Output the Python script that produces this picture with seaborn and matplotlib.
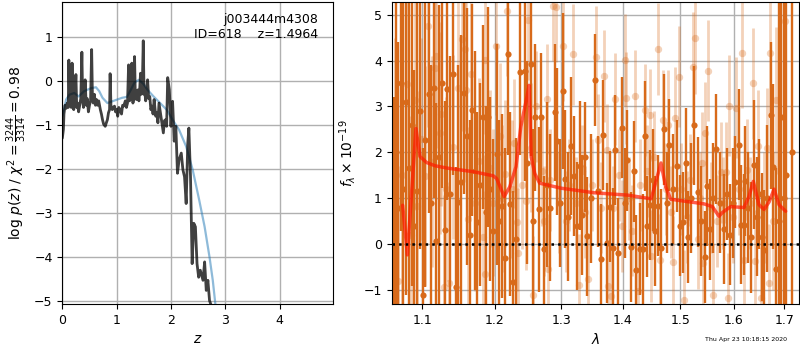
import numpy as np
import matplotlib
matplotlib.use('Agg')
import matplotlib.pyplot as plt
from matplotlib.ticker import NullLocator, FixedLocator, FixedFormatter
import seaborn as sns

# ---- left panel: p(z) and chi2 curves ------------------------------------ #
z_pz = [0.00, 0.02, 0.03, 0.05, 0.07, 0.09, 0.11, 0.12, 0.135, 0.15, 0.165, 0.18,
        0.195, 0.21, 0.23, 0.25, 0.265, 0.28, 0.30, 0.32, 0.34, 0.36, 0.375, 0.39,
        0.41, 0.42, 0.44, 0.46, 0.48, 0.50, 0.52, 0.54, 0.555, 0.57, 0.59, 0.61,
        0.63, 0.65, 0.67, 0.70, 0.72, 0.74, 0.76, 0.79, 0.81, 0.83, 0.85, 0.87,
        0.88, 0.895, 0.92, 0.94, 0.96, 0.98, 1.00, 1.02, 1.04, 1.06, 1.09, 1.11,
        1.13, 1.16, 1.18, 1.20, 1.22, 1.235, 1.26, 1.28, 1.30, 1.32, 1.33, 1.345,
        1.37, 1.39, 1.41, 1.42, 1.44, 1.455, 1.47, 1.49, 1.505, 1.52, 1.535, 1.55,
        1.57, 1.59, 1.61, 1.63, 1.65, 1.67, 1.69, 1.72, 1.74, 1.76, 1.78, 1.81,
        1.83, 1.86, 1.88, 1.90, 1.92, 1.94, 1.97, 2.00, 2.03, 2.06, 2.09, 2.12,
        2.15, 2.19, 2.22, 2.25, 2.28, 2.31, 2.33, 2.36, 2.39, 2.42, 2.45, 2.48,
        2.51, 2.54, 2.59, 2.62, 2.65, 2.68, 2.71, 2.74]
logp_pz = [-1.30, -1.10, -0.75, -0.55, -0.62, -0.50, -0.60, 0.48, -0.55, -0.45, -0.60, 0.41,
           -0.50, -0.65, -0.45, 0.15, -0.60, -0.50, -0.70, -0.55, -0.40, 0.66, -0.45, -0.60,
           -0.35, 0.03, -0.55, -0.40, -0.70, -0.55, -0.45, 0.72, -0.40, -0.50, -0.30, -0.55,
           -0.42, -0.55, -0.45, -0.65, -0.75, -0.88, -0.98, -1.03, -0.95, -0.88, -0.72, -0.65,
           0.17, -0.55, -0.65, -0.60, -0.57, -0.70, -0.65, -0.80, -0.60, -0.65, -0.75, -0.55,
           -0.57, -0.45, -0.60, -0.50, 0.37, -0.45, -0.42, 0.41, -0.50, -0.35, 0.56, -0.40,
           -0.42, -0.20, -0.45, -0.30, 0.18, -0.30, -0.27, 0.92, -0.30, -0.27, -0.45, -0.20,
           0.03, -0.40, -0.35, -0.65, -0.57, -0.75, -0.42, -0.80, -0.72, -0.95, -0.50, -0.76,
           -0.95, -1.18, -0.90, -0.88, -1.03, 0.08, -0.19, -1.03, -0.46, -1.37, -1.03, -2.10,
           -1.79, -1.64, -2.02, -2.18, -2.79, -1.41, -1.07, -2.18, -4.16, -3.24, -3.32, -4.16,
           -4.47, -4.31, -4.54, -4.12, -4.77, -4.54, -5.00, -5.11]

z_chi = [0.00, 0.03, 0.07, 0.13, 0.22, 0.30, 0.40, 0.53, 0.62, 0.68, 0.74, 0.83,
         0.92, 1.01, 1.10, 1.19, 1.26, 1.33, 1.41, 1.49, 1.57, 1.68, 1.80, 1.92,
         2.03, 2.15, 2.28, 2.40, 2.52, 2.62, 2.71, 2.77, 2.82]
logp_chi = [-0.80, -0.65, -0.42, -0.31, -0.27, -0.35, -0.23, -0.16, -0.14, -0.23, -0.38, -0.50,
            -0.46, -0.42, -0.38, -0.36, -0.20, -0.03, 0.03, -0.06, -0.20, -0.35, -0.50, -0.65,
            -0.88, -1.11, -1.49, -2.02, -2.71, -3.32, -4.01, -4.54, -5.11]

# ---- right panel: spectrum, two sets of points ----------------------------- #
wave_a = [1.0632, 1.0660, 1.0690, 1.0718, 1.0745, 1.0787, 1.0830, 1.0862, 1.0890, 1.0935,
          1.0970, 1.1006, 1.1040, 1.1086, 1.1120, 1.1156, 1.1183, 1.1225, 1.1264, 1.1305,
          1.1336, 1.1378, 1.1419, 1.1459, 1.1488, 1.1529, 1.1566, 1.1613, 1.1645, 1.1678,
          1.1715, 1.1753, 1.1795, 1.1838, 1.1870, 1.1905, 1.1929, 1.1975, 1.2039, 1.2070,
          1.2107, 1.2151, 1.2195, 1.2229, 1.2273, 1.2313, 1.2371, 1.2442, 1.2481, 1.2532,
          1.2565, 1.2601, 1.2651, 1.2686, 1.2727, 1.2780, 1.2830, 1.2899, 1.2940, 1.2985,
          1.3024, 1.3066, 1.3110, 1.3159, 1.3197, 1.3245, 1.3292, 1.3335, 1.3375, 1.3415,
          1.3480, 1.3545, 1.3594, 1.3643, 1.3676, 1.3731, 1.3780, 1.3830, 1.3863, 1.3913,
          1.3985, 1.4030, 1.4064, 1.4142, 1.4193, 1.4227, 1.4290, 1.4341, 1.4381, 1.4415,
          1.4461, 1.4510, 1.4553, 1.4611, 1.4660, 1.4709, 1.4760, 1.4800, 1.4870, 1.4944,
          1.5000, 1.5058, 1.5111, 1.5142, 1.5200, 1.5256, 1.5317, 1.5380, 1.5455, 1.5500,
          1.5555, 1.5610, 1.5660, 1.5730, 1.5805, 1.5870, 1.5933, 1.5980, 1.6029, 1.6094,
          1.6132, 1.6190, 1.6223, 1.6280, 1.6334, 1.6393, 1.6450, 1.6500, 1.6560, 1.6600,
          1.6660, 1.6726, 1.6781, 1.6842, 1.6894, 1.6940, 1.6985, 1.7029, 1.7165]
flux_a = [-0.50, 2.00, 0.80, 3.50, 1.20, 3.09, 1.67, 2.60, 0.40, 1.17,
          2.90, -1.10, 2.28, 3.28, 0.90, 3.41, 0.07, 1.90, 3.52, 0.31,
          3.37, 1.10, 3.70, -0.92, 0.91, 1.35, 3.30, 2.35, 0.20, 2.92,
          1.60, 0.48, 1.30, 2.77, 0.70, 2.77, 1.21, 0.30, 1.96, 0.50,
          0.84, -0.30, 4.14, 0.88, -0.83, 0.12, 3.74, 3.77, 1.78, 3.92,
          0.51, 2.76, 0.76, 2.76, -0.11, 1.30, 0.80, 2.87, 2.24, 0.90,
          3.33, 1.42, 0.60, 2.14, 1.49, 0.40, 1.71, 0.64, 1.90, 0.17,
          1.00, 3.57, 1.15, -0.33, 2.38, 0.03, 0.82, -0.08, 2.05, -0.19,
          2.54, 0.90, 1.83, -0.06, 1.59, -0.56, -0.11, -0.11, 2.35, 0.39,
          0.85, 1.40, 0.29, 0.84, -0.09, 2.50, 0.90, 2.17, 1.20, 1.70,
          0.40, 0.48, 1.76, 0.16, 1.00, 2.59, 1.14, 0.50, -0.28, 1.27,
          0.33, 1.00, 2.07, 0.90, 0.34, 1.10, 0.21, 0.90, 1.35, 2.17,
          0.43, 0.43, 1.37, 0.80, 0.15, 1.73, 0.60, 1.10, 0.16, -0.12,
          1.00, 2.81, 1.69, -0.53, 0.50, 2.76, 1.00, 1.50, 2.00]
err_a = [3.7, 4.0, 3.6, 3.2, 4.5, 4.2, 4.0, 3.5, 3.4, 4.2,
         3.0, 3.2, 3.2, 2.6, 3.0, 2.4, 3.0, 3.3, 2.3, 2.8,
         2.4, 3.0, 2.2, 2.6, 3.0, 3.2, 2.2, 2.8, 2.5, 2.3,
         2.6, 2.4, 2.2, 2.0, 2.3, 2.4, 2.0, 2.0, 2.4, 2.2,
         2.0, 2.4, 2.2, 2.0, 2.0, 2.2, 1.8, 2.4, 2.2, 2.0,
         2.0, 1.6, 1.8, 1.4, 1.6, 1.8, 1.6, 1.5, 1.6, 1.4,
         1.7, 1.5, 1.4, 1.5, 1.3, 1.4, 1.4, 1.3, 1.2, 1.3,
         1.4, 1.0, 1.2, 1.2, 1.2, 1.3, 1.2, 1.3, 1.2, 1.2,
         1.1, 1.2, 1.1, 1.2, 1.1, 1.2, 1.0, 1.2, 1.2, 1.1,
         1.2, 1.1, 1.2, 1.1, 1.3, 1.2, 1.1, 1.0, 1.2, 1.0,
         1.1, 1.1, 1.2, 1.0, 1.2, 1.3, 1.2, 1.2, 1.0, 1.3,
         1.1, 1.2, 1.2, 1.1, 1.2, 1.0, 1.1, 1.2, 1.0, 1.2,
         1.3, 1.1, 1.2, 1.2, 1.2, 1.4, 1.3, 1.2, 1.4, 1.3,
         1.6, 1.6, 1.8, 2.2, 6.0, 6.0, 8.0, 8.0, 8.0]

wave_b = [1.0640, 1.0690, 1.0740, 1.0805, 1.0850, 1.0900, 1.0935, 1.0985, 1.1033, 1.1081,
          1.1130, 1.1165, 1.1183, 1.1232, 1.1245, 1.1290, 1.1320, 1.1353, 1.1419, 1.1488,
          1.1538, 1.1582, 1.1601, 1.1629, 1.1665, 1.1720, 1.1780, 1.1828, 1.1865, 1.1869,
          1.1932, 1.1980, 1.2017, 1.2075, 1.2110, 1.2151, 1.2185, 1.2250, 1.2290, 1.2321,
          1.2335, 1.2400, 1.2462, 1.2491, 1.2530, 1.2565, 1.2620, 1.2700, 1.2740, 1.2785,
          1.2797, 1.2830, 1.2873, 1.2923, 1.2960, 1.3030, 1.3070, 1.3120, 1.3186, 1.3230,
          1.3283, 1.3330, 1.3380, 1.3430, 1.3490, 1.3562, 1.3590, 1.3640, 1.3688, 1.3741,
          1.3753, 1.3807, 1.3840, 1.3875, 1.3940, 1.3990, 1.4030, 1.4058, 1.4110, 1.4160,
          1.4200, 1.4256, 1.4300, 1.4381, 1.4420, 1.4457, 1.4482, 1.4540, 1.4600, 1.4645,
          1.4690, 1.4740, 1.4790, 1.4830, 1.4872, 1.4900, 1.4978, 1.5020, 1.5070, 1.5120,
          1.5180, 1.5237, 1.5268, 1.5323, 1.5360, 1.5403, 1.5417, 1.5455, 1.5511, 1.5560,
          1.5613, 1.5670, 1.5752, 1.5800, 1.5850, 1.5895, 1.5914, 1.5990, 1.6049, 1.6100,
          1.6164, 1.6190, 1.6255, 1.6320, 1.6373, 1.6421, 1.6473, 1.6540, 1.6600, 1.6650,
          1.6700, 1.6720, 1.6780, 1.6834, 1.6890, 1.7012]
flux_b = [2.00, -0.80, 1.50, 3.48, 0.20, 3.15, 0.84, 2.30, 1.49, 4.75,
          1.80, 3.83, 4.10, 2.43, 2.83, -0.92, 1.20, -0.85, 2.12, 3.41,
          4.46, 4.26, 3.35, 0.56, 3.70, 0.89, 1.82, 0.15, 4.01, -0.65,
          1.65, 0.90, 4.31, 2.35, 1.00, 1.54, 5.07, 1.20, 2.20, 0.49,
          -0.18, 1.30, 0.95, 4.88, 2.10, -1.11, 3.00, 1.60, 0.50, 3.17,
          -0.54, 1.40, 5.18, 5.16, 0.90, 4.31, 0.50, 1.30, 4.14, 0.90,
          -0.88, 1.60, 0.70, -0.75, 1.30, 4.08, 2.27, 0.80, 3.66, 2.05,
          -0.90, -1.12, 0.80, 3.16, 1.50, 0.40, 4.01, 3.19, 1.00, 0.30,
          3.22, -1.02, 1.30, 2.92, 1.60, 2.81, -0.25, 1.90, 4.26, -0.34,
          2.70, 1.20, 2.60, 0.70, -0.38, 2.75, 3.65, 1.20, -1.22, 0.60,
          1.40, 3.85, 4.48, 0.12, 1.00, 1.78, -0.41, 2.43, 3.78, 0.80,
          -1.10, 0.50, 1.57, 0.90, 1.57, -1.18, 3.02, 0.60, 2.97, 1.20,
          4.17, -0.34, 1.62, 0.90, 3.50, -0.36, 2.15, -1.16, 0.80, 2.10,
          -0.85, 4.17, 0.50, 3.14, 1.00, 4.85]
err_b = [2.5, 2.5, 3.0, 2.5, 2.6, 2.4, 2.5, 2.2, 2.4, 2.2,
         2.3, 2.2, 2.0, 2.2, 2.0, 2.0, 2.0, 2.2, 2.0, 2.0,
         2.0, 1.8, 2.0, 2.0, 1.8, 1.9, 1.8, 1.8, 1.6, 1.8,
         1.7, 1.6, 1.5, 1.6, 1.6, 1.6, 1.4, 1.5, 1.4, 1.5,
         1.4, 1.4, 1.5, 1.3, 1.4, 1.3, 1.2, 1.2, 1.2, 1.2,
         1.2, 1.1, 1.2, 1.2, 1.1, 1.2, 1.1, 1.0, 1.1, 1.0,
         1.1, 1.0, 1.0, 1.0, 1.0, 1.1, 1.0, 1.0, 1.0, 1.0,
         1.0, 1.0, 0.9, 1.0, 1.0, 1.0, 1.0, 1.0, 0.9, 1.0,
         1.0, 1.0, 1.0, 1.0, 1.0, 1.0, 1.0, 1.0, 1.0, 1.0,
         1.1, 1.0, 1.2, 1.0, 1.0, 1.1, 1.1, 1.0, 1.1, 1.0,
         1.0, 1.2, 1.2, 1.1, 1.0, 1.1, 1.1, 1.1, 1.1, 1.0,
         1.1, 1.0, 1.1, 1.0, 1.1, 1.0, 1.1, 1.0, 1.1, 1.0,
         1.2, 1.0, 1.1, 1.0, 1.2, 1.1, 1.2, 1.1, 1.2, 1.3,
         1.3, 1.4, 1.5, 1.6, 2.0, 2.5]

model_wave = [1.0744, 1.0805, 1.0917, 1.0970, 1.1058, 1.1169, 1.1327, 1.1697, 1.1982, 1.2029,
              1.2139, 1.2221, 1.2313, 1.2384, 1.2476, 1.2507, 1.2540, 1.2594, 1.2668, 1.3003,
              1.3535, 1.4085, 1.4486, 1.4658, 1.4741, 1.4830, 1.5070, 1.5436, 1.5591, 1.5717,
              1.5780, 1.5940, 1.6197, 1.6294, 1.6379, 1.6491, 1.6591, 1.6692, 1.6793, 1.6894,
              1.7029]
model_flux = [0.85, -0.23, 2.52, 1.91, 1.78, 1.71, 1.66, 1.58, 1.49, 1.43,
              1.04, 1.25, 1.69, 2.56, 3.21, 3.46, 1.90, 1.54, 1.33, 1.22,
              1.12, 1.07, 0.99, 1.77, 1.25, 0.98, 0.94, 0.88, 0.82, 0.61,
              0.69, 0.82, 0.80, 1.04, 1.37, 0.86, 0.76, 0.92, 1.20, 0.86,
              0.72]

wave_ticks = [1.1, 1.2, 1.3, 1.4, 1.5, 1.6, 1.7]
wave_labels = ['1.1', '1.2', '1.3', '1.4', '1.5', '1.6', '1.7']

orange = '#d86a1a'

sns.set_style('ticks', {'axes.edgecolor': 'black', 'xtick.color': 'black',
                        'ytick.color': 'black', 'text.color': 'black',
                        'axes.labelcolor': 'black'})
plt.rcParams['font.family'] = ['DejaVu Sans']
plt.rcParams['font.size'] = 9
plt.rcParams['xtick.labelsize'] = 9
plt.rcParams['ytick.labelsize'] = 9
plt.rcParams['axes.labelsize'] = 10

fig = plt.figure(figsize=(8, 3.5), dpi=100)
ax1 = fig.add_axes([0.0779, 0.1314, 0.3388, 0.8637])
ax2 = fig.add_axes([0.4896, 0.1314, 0.5095, 0.8637])

# left
sns.lineplot(x=z_chi, y=logp_chi, ax=ax1, color='#1f77b4', alpha=0.5, lw=1.6)
sns.lineplot(x=z_pz, y=logp_pz, ax=ax1, color='k', alpha=0.75, lw=2)
ax1.set_xlim(0, 4.99)
ax1.set_ylim(-5.08, 1.81)
ax1.set_xticks([0, 1, 2, 3, 4])
ax1.set_yticks([-5, -4, -3, -2, -1, 0, 1])
ax1.grid(True, color='#b0b0b0', lw=1)
ax1.set_axisbelow(True)
ax1.set_xlabel('$z$')
ax1.set_ylabel(r'log $p(z)$ / $\chi^2=\frac{3244}{3314}=0.98$')
ax1.text(0.944, 0.963, 'j003444m4308\nID=618    z=1.4964', transform=ax1.transAxes,
         ha='right', va='top', fontsize=9)

# right
ax2.set_xscale('log')
ax2.errorbar(wave_a, flux_a, yerr=err_a, fmt='none', ecolor=orange, elinewidth=1.7, capsize=0)
sns.scatterplot(x=wave_a, y=flux_a, ax=ax2, color=orange, s=20, linewidth=0)
ax2.errorbar(wave_b, flux_b, yerr=err_b, fmt='none', ecolor=orange, elinewidth=2.0,
             capsize=0, alpha=0.3)
sns.scatterplot(x=wave_b, y=flux_b, ax=ax2, color=orange, s=28, linewidth=0, alpha=0.3)
sns.lineplot(x=model_wave, y=model_flux, ax=ax2, color='#ff1a00', alpha=0.7, lw=2.5)
ax2.axhline(0, color='k', linestyle=':', lw=1.8)
ax2.set_xlim(1.0603, 1.731)
ax2.set_ylim(-1.30, 5.28)
ax2.xaxis.set_major_locator(FixedLocator(wave_ticks))
ax2.xaxis.set_major_formatter(FixedFormatter(wave_labels))
ax2.xaxis.set_minor_locator(NullLocator())
ax2.set_yticks([-1, 0, 1, 2, 3, 4, 5])
ax2.grid(True, color='#b0b0b0', lw=1)
ax2.set_xlabel(r'$\lambda$')
ax2.set_ylabel(r'$f_\lambda\times10^{-19}$')

fig.text(0.984, 0.029, 'Thu Apr 23 10:18:15 2020', ha='right', va='center', fontsize=4.5)

fig.savefig('out.png', dpi=100)
